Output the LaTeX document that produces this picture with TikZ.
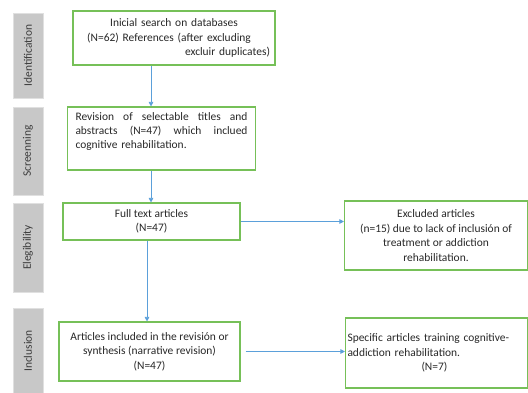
\documentclass[tikz,border=0pt]{standalone}
\usepackage{fontspec}
\setmainfont{Carlito}
\usepackage{tikz}
\usetikzlibrary{positioning,arrows.meta}
\definecolor{boxgreen}{RGB}{118,192,88}
\definecolor{flowblue}{RGB}{91,160,218}
\definecolor{bargray}{RGB}{200,200,200}
\definecolor{bartext}{RGB}{60,60,60}
\definecolor{boxtext}{RGB}{40,40,40}
\tikzset{
  stepbox/.style={draw=boxgreen,line width=1.1pt,fill=white,inner sep=0pt,text=boxtext,
    font=\fontsize{11.5}{14.5}\selectfont,align=center},
  stagebar/.style={fill=bargray,draw=black!12,line width=0.4pt,rotate=90,
    minimum height=30bp,inner sep=0pt,font=\fontsize{11.5}{12}\selectfont,text=bartext},
  flow/.style={-{Triangle[length=4.5pt,width=4.5pt]},draw=flowblue,line width=0.7pt},
}
\begin{document}
\begin{tikzpicture}[x=1bp,y=-1bp]
  \useasboundingbox (0,0) rectangle (528,392);
  % stage bars on the left
  \node[stagebar,minimum width=85bp] (sid) at (28,55.5) {Identification};
  \node[stagebar,minimum width=88bp] (sscr) at (28,151) {Screenning};
  \node[stagebar,minimum width=89bp] (selg) at (28,247.5) {Elegibility};
  \node[stagebar,minimum width=86bp] (sinc) at (28,351) {Inclusion};
  % boxes
  \node[stepbox,minimum width=202bp,minimum height=54bp,text width=196bp] (search) at (174,38)
    {Inicial search on databases\\
     \hspace*{-10bp}(N=62) References (after excluding\\
     \hfill excluir duplicates)\hspace*{2bp}};
  \node[stepbox,minimum width=188bp,minimum height=63bp] (screen) at (161.5,138.5) {};
  \node[font=\fontsize{11.5}{14}\selectfont,text=boxtext,text width=172bp,align=left,inner sep=0pt,anchor=north]
    (screentxt) at (161.5,112)
    {\hbox to 172bp{Revision\hfill of\hfill selectable\hfill titles\hfill and}
     \hbox to 172bp{abstracts\hfill (N=47)\hfill which\hfill inclued}
     cognitive rehabilitation.};
  \node[stepbox,minimum width=177bp,minimum height=37bp] (full) at (151.5,221.5)
    {Full text articles\\(N=47)};
  \node[stepbox,minimum width=183bp,minimum height=69bp] (excl) at (436,235.5)
    {Excluded articles\\(n=15) due to lack of inclusi\'on of\\treatment or addiction\\rehabilitation.};
  \node[stepbox,minimum width=181bp,minimum height=59bp] (incl) at (149.5,351.5)
    {Articles included in the revisi\'on or\\synthesis (narrative revision)\\(N=47)};
  \node[stepbox,minimum width=182bp,minimum height=70bp,text width=178bp,align=left] (spec) at (436.5,353)
    {Specific articles training cognitive-\\addiction rehabilitation.\\\hspace*{74bp}(N=7)};
  % connectors
  \draw[flow] (search.south -| 151,0) -- (screen.north -| 151,0);
  \draw[flow] (screen.south -| 151,0) -- (full.north -| 151,0);
  \draw[flow] (full.east) -- (excl.west |- full.east);
  \draw[flow] (full.south -| 147,0) -- (incl.north -| 147,0);
  \draw[flow] ([xshift=5bp]incl.east) -- (spec.west |- incl.east);
\end{tikzpicture}
\end{document}
